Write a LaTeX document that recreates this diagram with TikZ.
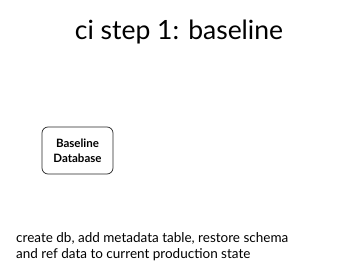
\documentclass[tikz,border=0pt]{standalone}
\usepackage{fontspec}
\setmainfont{Lato}
\begin{document}
\begin{tikzpicture}[x=1pt,y=-1pt,
  dbbox/.style={draw=black!85,line width=0.7pt,rounded corners=6pt,
    minimum width=71pt,minimum height=47pt,align=center,
    font=\fontsize{11.5}{15}\selectfont\bfseries},
  title/.style={font=\fontsize{26.5}{32}\selectfont},
  note/.style={anchor=north west,align=left,inner sep=0pt,
    font=\fontsize{13.5}{16.5}\selectfont}]
  \useasboundingbox (0,0) rectangle (360,270);
  \node[title] (title) at (179,32) {ci step 1: baseline};
  \node[dbbox] (db) at (77.5,150.5) {Baseline\\Database};
  \node[note] (desc) at (16,232) {create db, add metadata table, restore schema\\and ref data to current production state};
\end{tikzpicture}
\end{document}
